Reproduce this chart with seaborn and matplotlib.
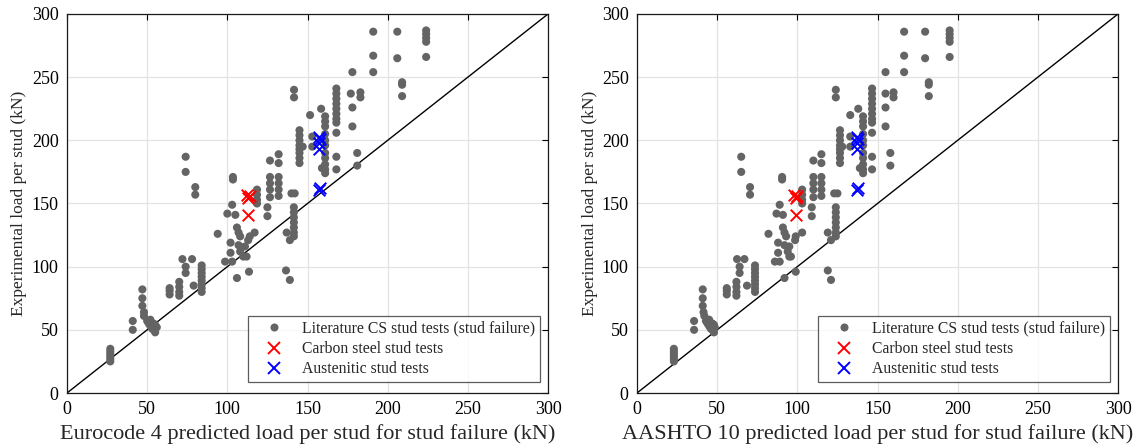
import matplotlib
matplotlib.use("Agg")
import matplotlib.pyplot as plt
import seaborn as sns
import pandas as pd
from matplotlib.lines import Line2D

# Literature push-out tests with stud failure: predicted resistance per stud
# by Eurocode 4 and AASHTO 10, and the measured load per stud (kN).
lit_ec4 = [
    27, 27, 27, 27, 27, 27,
    41, 41,
    47, 47, 47, 48, 48,
    50, 51, 52, 53, 54, 55, 56, 54, 55, 52,
    64, 64, 64,
    70, 70, 70, 70, 72, 78, 74, 74, 79,
    84, 84, 84, 84, 84, 84, 84, 84,
    94,
    102, 102, 98.6, 103, 107, 103, 100, 105,
    103.5, 103.5, 80, 80, 74, 74,
    106, 107, 108, 108, 110, 112, 113, 114, 117, 111, 106, 113.5,
    118.5, 118.5, 118.5, 118.5,
    125, 125,
    126.6, 126.6, 126.6, 126.6, 126.6,
    132, 132, 132, 132, 132, 132,
    137, 136.6, 139,
    140, 142, 141.5, 141.5, 141.5, 141.5, 141.5, 141.5, 141.5, 139,
    141.6, 141.6,
    145, 145, 145, 145, 145, 145, 145, 145, 147,
    151.6, 153, 153,
    158.5,
    161, 161, 161, 161, 161, 161, 161, 161, 161, 161, 161,
    159,
    168, 168, 168, 168, 168, 168, 168, 168, 168, 168, 168,
    177, 178, 178, 178, 181, 181, 183, 183,
    191, 191, 191, 206, 206, 224, 224, 224, 224, 224, 209, 209, 209,
]
lit_aashto = [
    23, 23, 23, 23, 23, 23,
    35.6, 35.6,
    41, 41, 41, 41.5, 42,
    43, 44, 45, 46, 47, 48, 48.5, 47, 48, 45,
    56, 56, 56,
    62, 62, 62, 62, 62.4, 67, 64, 64, 68.6,
    73.6, 73.6, 73.6, 73.6, 73.6, 73.6, 73.6, 73.6,
    82,
    88, 88, 86, 89, 92, 89, 87, 91,
    90.5, 90.5, 70.5, 70.5, 65, 65,
    91, 92, 93, 94, 95, 96, 98.6, 99, 103, 95, 92, 99,
    103, 103, 103, 103,
    109, 109,
    110, 110, 110, 110, 110,
    115, 115, 115, 115, 115, 115,
    119, 119, 121,
    123, 125, 124, 124, 124, 124, 124, 124, 124, 121,
    124, 124,
    126.6, 126.6, 126.6, 126.6, 126.6, 126.6, 126.6, 126.6, 128,
    133, 133, 133,
    138,
    141, 141, 141, 141, 141, 141, 141, 141, 141, 141, 141,
    139,
    146.6, 146.6, 146.6, 146.6, 146.6, 146.6, 146.6, 146.6, 146.6, 146.6, 146.6,
    155, 155, 155, 155, 158, 158, 160, 160,
    166.6, 166.6, 166.6, 179.7, 179.7, 195, 195, 195, 195, 195, 182, 182, 182,
]
lit_exp = [
    25, 27, 29, 31, 33, 35,
    57, 50,
    82, 75, 69, 64, 61,
    57, 55, 53, 51, 50, 48, 52, 55, 54, 58,
    78, 81, 83,
    77, 80, 84, 88, 106, 106, 100, 95, 85,
    80, 83, 86, 89, 92, 95, 98, 101,
    126,
    119, 111, 104, 104, 117, 149, 142, 141,
    171, 169, 163, 157, 187, 175,
    131, 127, 124, 112, 108, 108, 121, 124, 127, 116, 91, 96,
    161, 157, 153, 150,
    147, 140,
    184, 171, 166, 161, 155,
    189, 182, 171, 166, 161, 156,
    127, 97, 89.5,
    158, 158, 147, 143, 139, 135, 131, 127, 124, 121,
    240, 234,
    208, 204, 200, 196, 193, 190, 186, 182, 195,
    220, 203, 195,
    225,
    219, 215, 211, 205, 200, 196, 190, 186, 181, 177, 174,
    178,
    241, 237, 233, 229, 225, 221, 217, 214, 206, 187, 177,
    237, 226, 211, 254, 190, 180, 238, 234,
    286, 267, 254, 286, 265, 287, 284, 281, 278, 266, 246, 244, 235,
]

# Carbon steel stud tests
cs_ec4 = [112, 114, 113, 113]
cs_aashto = [98, 100, 99, 99]
cs_exp = [157, 156, 154, 141]

# Austenitic stainless steel stud tests
aus_ec4 = [157, 158, 157, 157, 157, 158]
aus_aashto = [137, 138, 137, 137, 137, 138]
aus_exp = [203, 201, 198, 193, 161, 162]

ticks = [0, 50, 100, 150, 200, 250, 300]
xlabels = [
    "Eurocode 4 predicted load per stud for stud failure (kN)",
    "AASHTO 10 predicted load per stud for stud failure (kN)",
]
ylabel = "Experimental load per stud (kN)"
legend_labels = [
    "Literature CS stud tests (stud failure)",
    "Carbon steel stud tests",
    "Austenitic stud tests",
]

sns.set_theme(style="white")
plt.rcParams["font.family"] = ["Liberation Serif", "DejaVu Serif"]

lit = pd.DataFrame({"ec4": lit_ec4, "aashto": lit_aashto, "exp": lit_exp})
cs = pd.DataFrame({"ec4": cs_ec4, "aashto": cs_aashto, "exp": cs_exp})
aus = pd.DataFrame({"ec4": aus_ec4, "aashto": aus_aashto, "exp": aus_exp})

grey = "#646464"
fig = plt.figure(figsize=(11.37, 4.47), dpi=100)
axes = [
    fig.add_axes([67 / 1137, 54 / 447, 481 / 1137, 379 / 447]),
    fig.add_axes([637 / 1137, 54 / 447, 481 / 1137, 379 / 447]),
]

for ax, col, xl in zip(axes, ["ec4", "aashto"], xlabels):
    ax.grid(True, color="#e3e3e3", linewidth=0.9, zorder=0)
    ax.set_axisbelow(True)
    ax.plot([0, 300], [0, 300], color="black", linewidth=1.0, zorder=1)
    sns.scatterplot(data=lit, x=col, y="exp", ax=ax, color=grey, s=34,
                    edgecolor="none", linewidth=0, zorder=3, legend=False)
    sns.scatterplot(data=cs, x=col, y="exp", ax=ax, color="red", marker="x",
                    s=70, linewidth=1.4, zorder=4, legend=False)
    sns.scatterplot(data=aus, x=col, y="exp", ax=ax, color="blue", marker="x",
                    s=70, linewidth=1.4, zorder=4, legend=False)
    ax.set_xlim(0, 300)
    ax.set_ylim(0, 300)
    ax.set_xticks(ticks)
    ax.set_yticks(ticks)
    ax.tick_params(direction="in", length=4, width=0.8, top=True, right=True,
                   labelsize=13, colors="black", pad=6)
    for sp in ax.spines.values():
        sp.set_color("#1a1a1a")
        sp.set_linewidth(0.9)
    ax.set_xlabel(xl, fontsize=16, labelpad=4)
    ax.set_ylabel(ylabel, fontsize=12.5, labelpad=3)

    handles = [
        Line2D([], [], linestyle="none", marker="o", markersize=5.8,
               markerfacecolor=grey, markeredgecolor="none"),
        Line2D([], [], linestyle="none", marker="x", markersize=8.5,
               markeredgewidth=1.4, color="red"),
        Line2D([], [], linestyle="none", marker="x", markersize=8.5,
               markeredgewidth=1.4, color="blue"),
    ]
    leg = ax.legend(handles, legend_labels, loc="lower right", fontsize=11.3,
                    frameon=True, fancybox=False, borderpad=0.3,
                    handlelength=2.74, handletextpad=0.4, labelspacing=0.27,
                    borderaxespad=0, bbox_to_anchor=(473 / 481, 11 / 379))
    leg.get_frame().set_edgecolor("#333333")
    leg.get_frame().set_linewidth(0.9)

fig.savefig("out.png", dpi=100)
